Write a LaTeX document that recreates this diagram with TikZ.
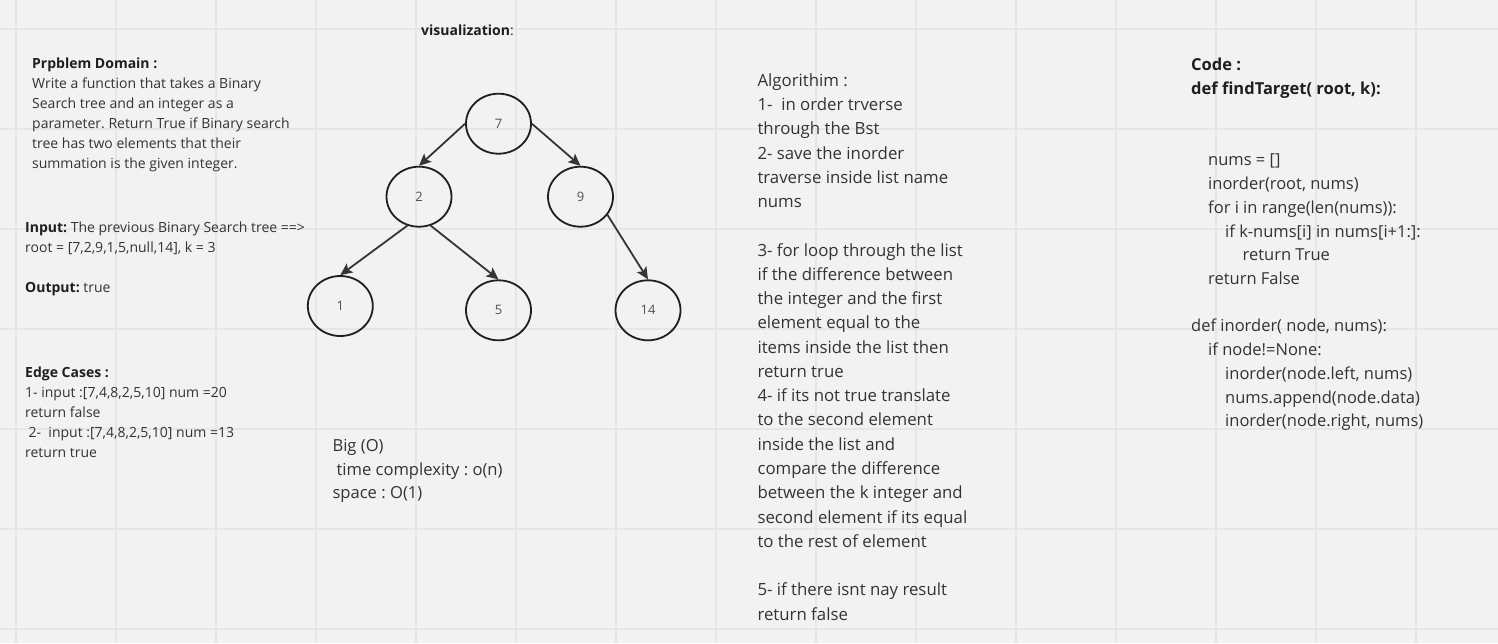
\documentclass[tikz,border=0pt]{standalone}
\usepackage{fontspec}
\setmainfont{Open Sans}
\usetikzlibrary{arrows.meta,shapes.geometric}
\definecolor{bg}{HTML}{F2F2F2}
\definecolor{gridc}{HTML}{E6E6E6}
\definecolor{txt}{HTML}{333333}
\definecolor{ink}{HTML}{1F1F1F}
\newcommand{\toprule}{\rule{0pt}{20pt}}
\frenchspacing
\begin{document}
\begin{tikzpicture}[x=1pt,y=-1pt,
  txtbox/.style={anchor=north west, align=left, inner sep=0pt, text=txt},
  smalltxt/.style={font=\fontsize{14}{20}\selectfont},
  bigtxt/.style={font=\fontsize{16.8}{24.27}\selectfont},
  bst/.style={ellipse, draw=ink, line width=1.8pt, minimum width=65pt, minimum height=60pt, inner sep=0pt, text=txt!85, font=\fontsize{13}{15}\selectfont},
  link/.style={draw=ink!90, line width=1.8pt, -{Stealth[length=12pt,width=11pt,inset=2.5pt]}}]
\fill[bg] (0,0) rectangle (1498,643);
\useasboundingbox (0,0) rectangle (1498,643);
\foreach \x in {16,116,...,1416} \draw[gridc, line width=1.2pt] (\x,0) -- (\x,643);
\foreach \y in {29,129,...,629} \draw[gridc, line width=1.2pt] (0,\y) -- (1498,\y);

% tree
\node[bst] (n7) at (498.5,123.7) {7};
\node[bst] (n2) at (419,196.7) {2};
\node[bst] (n9) at (580.5,196.7) {9};
\node[bst] (n1) at (340.3,306) {1};
\node[bst] (n5) at (498.5,310.3) {5};
\node[bst] (n14) at (648,310.3) {14};
\draw[link] (n7.west) -- (n2.north);
\draw[link] (n7.east) -- (n9.north);
\draw[link] (n2.248) -- (n1.north);
\draw[link] (n2.292) -- (n5.north);
\draw[link] (n9.326) -- (n14.north);

% texts (node top = first baseline - 20)
\node[txtbox, font=\fontsize{14}{20}\selectfont] (vis) at (421,15.5) {\toprule\textcolor{ink}{\textbf{visualization}}:};

\node[txtbox, smalltxt] (dom) at (32,48.5) {\toprule\textcolor{ink}{\textbf{Prpblem Domain :}}\\
Write a function that takes a Binary\\
Search tree and an integer as a\\
parameter. Return True if Binary search\\
tree has two elements that their\\
summation is the given integer.};

\node[txtbox, smalltxt] (inp) at (25,212.3) {\toprule\textcolor{ink}{\textbf{Input:}} The previous Binary Search tree ==>\\
root = [7,2,9,1,5,null,14], k = 3\\
\mbox{}\\
\textcolor{ink}{\textbf{Output:}} true};

\node[txtbox, smalltxt] (edge) at (25,357.3) {\toprule\textcolor{ink}{\textbf{Edge Cases :}}\\
1- input :[7,4,8,2,5,10] num =20\\
return false\\
\hspace*{3.5pt}2-\ \ input :[7,4,8,2,5,10] num =13\\
return true};

\node[txtbox, font=\fontsize{16.6}{23.3}\selectfont] (bigo) at (332.3,431.7) {\toprule Big (O)\\
\hspace*{4pt}time complexity : o(n)\\
space : O(1)};

\node[txtbox, bigtxt] (algo) at (757.3,66) {\toprule Algorithim :\\
1-\ \ in order trverse\\
through the Bst\\
2- save the inorder\\
traverse inside list name\\
nums\\
\mbox{}\\
3- for loop through the list\\
if the difference between\\
the integer and the first\\
element equal to the\\
items inside the list then\\
return true\\
4- if its not true translate\\
to the second element\\
inside the list and\\
compare the difference\\
between the k integer and\\
second element if its equal\\
to the rest of element\\
\mbox{}\\
5- if there isnt nay result\\
return false};

\node[txtbox, font=\fontsize{16.5}{23.73}\selectfont] (code) at (1191,50.7) {\toprule\textcolor{ink}{\textbf{Code :}}\\
\textcolor{ink}{\textbf{def findTarget( root, k):}}\\
\mbox{}\\
\mbox{}\\
\hspace*{17pt}nums = []\\
\hspace*{17pt}inorder(root, nums)\\
\hspace*{17pt}for i in range(len(nums)):\\
\hspace*{34pt}if k-nums[i] in nums[i+1:]:\\
\hspace*{51.5pt}return True\\
\hspace*{17pt}return False\\
\mbox{}\\
def inorder( node, nums):\\
\hspace*{17pt}if node!=None:\\
\hspace*{34pt}inorder(node.left, nums)\\
\hspace*{34pt}nums.append(node.data)\\
\hspace*{34pt}inorder(node.right, nums)};
\end{tikzpicture}
\end{document}
